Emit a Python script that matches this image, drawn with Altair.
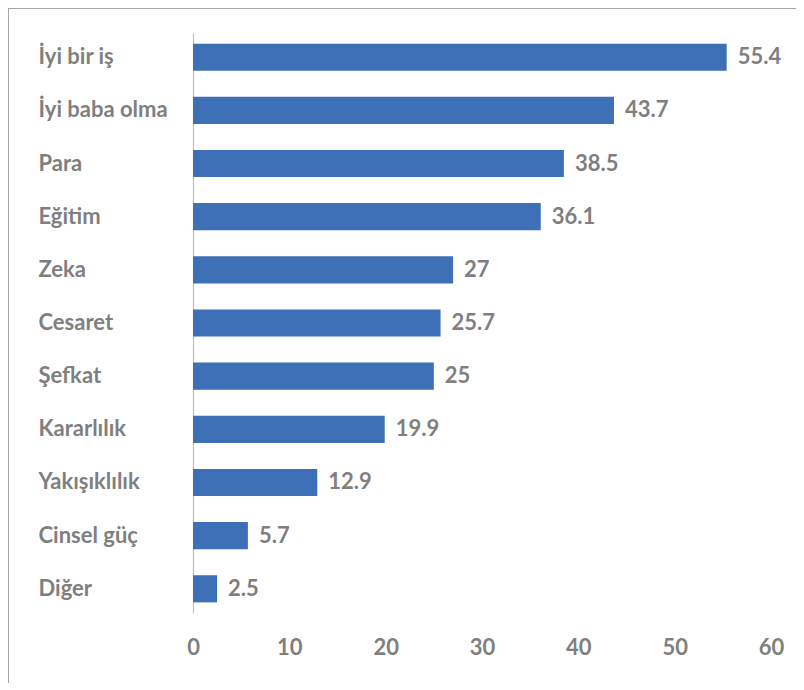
import altair as alt
import pandas as pd

categories = ["İyi bir iş", "İyi baba olma", "Para", "Eğitim", "Zeka", "Cesaret",
              "Şefkat", "Kararlılık", "Yakışıklılık", "Cinsel güç", "Diğer"]
values = [55.4, 43.7, 38.5, 36.1, 27, 25.7, 25, 19.9, 12.9, 5.7, 2.5]
x_ticks = [0, 10, 20, 30, 40, 50, 60]

df = pd.DataFrame({"cat": categories, "val": values})

FONT = "Lato"
FS = 22
GREY = "#7f7f7f"
BLUE = "#3d70b7"

y_enc = alt.Y("cat:N", sort=None,
              scale=alt.Scale(paddingInner=0.49, paddingOuter=0.2),
              axis=alt.Axis(title=None, ticks=False, labelAlign="left", labelPadding=155,
                            labelFont=FONT, labelFontSize=FS, labelFontWeight="bold",
                            labelColor=GREY, domainColor="#bfbfbf", domainWidth=1.2))
x_enc = alt.X("val:Q", scale=alt.Scale(domain=[0, 60]),
              axis=alt.Axis(title=None, values=x_ticks, grid=False, domain=False, ticks=False,
                            labelFlush=False, labelPadding=24, labelFont=FONT, labelFontSize=FS,
                            labelFontWeight="bold", labelColor=GREY))

bars = alt.Chart(df).mark_bar(color=BLUE).encode(x=x_enc, y=y_enc)
labels = alt.Chart(df).mark_text(align="left", baseline="middle", dx=11, font=FONT,
                                 fontSize=FS, fontWeight="bold", color=GREY).encode(
    x="val:Q", y=alt.Y("cat:N", sort=None), text=alt.Text("val:Q"))

border_df = pd.DataFrame({"k": [0]})
left_border = alt.Chart(border_df).mark_rule(color="#a6a6a6", strokeWidth=2).encode(
    x=alt.value(-185), y=alt.value(-30), y2=alt.value(700))
top_border = alt.Chart(border_df).mark_rule(color="#a6a6a6", strokeWidth=2).encode(
    x=alt.value(-190), x2=alt.value(700), y=alt.value(-25))

chart = alt.layer(bars, labels, left_border, top_border).properties(
    width=578, height=580,
    autosize=alt.AutoSizeParams(type="none"),
    padding={"left": 185, "top": 25, "right": 25, "bottom": 70},
).configure_view(stroke=None)

chart.save("out.html", embed_options={"renderer": "svg", "actions": False})
